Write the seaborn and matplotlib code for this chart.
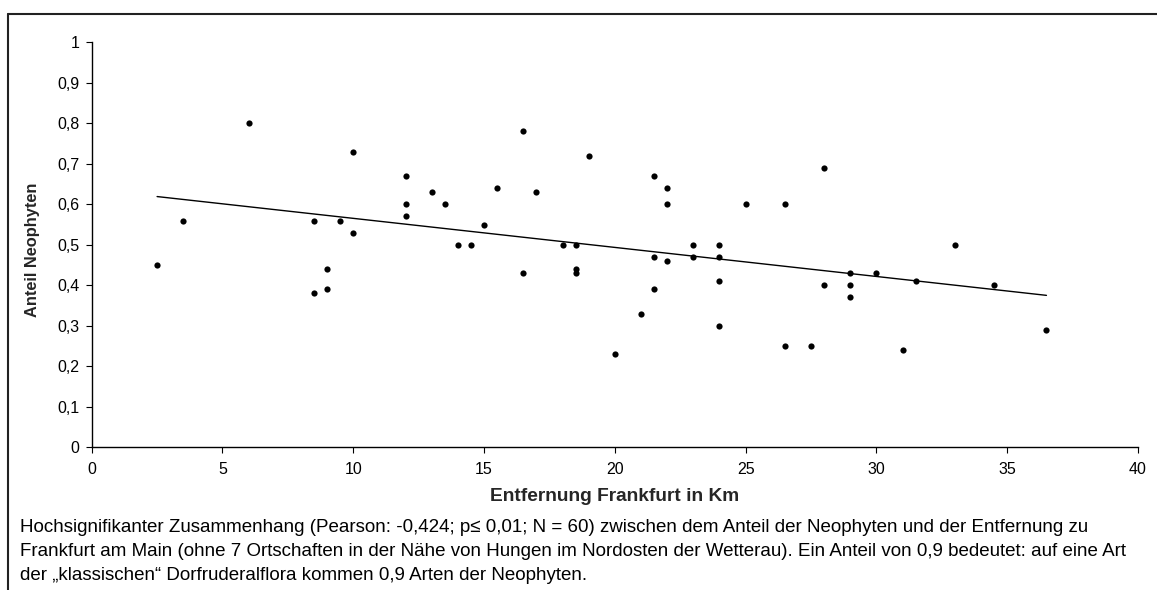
import matplotlib
matplotlib.use("Agg")
import matplotlib.pyplot as plt
import seaborn as sns
import pandas as pd
from matplotlib.ticker import FuncFormatter, MultipleLocator
from matplotlib.lines import Line2D

# Distance to Frankfurt (km) and share of neophytes per village
entfernung = [2.5, 3.5, 6, 8.5, 8.5, 9, 9, 9.5, 10, 10, 12, 12, 12, 13,
              13.5, 14, 14.5, 15, 15.5, 16.5, 16.5, 17, 18, 18.5, 18.5, 18.5,
              19, 20, 21, 21.5, 21.5, 21.5, 22, 22, 22, 23, 23, 24, 24, 24, 24,
              25, 26.5, 26.5, 27.5, 28, 28, 29, 29, 29, 30, 31, 31.5, 33,
              34.5, 36.5]
anteil = [0.45, 0.56, 0.80, 0.56, 0.38, 0.44, 0.39, 0.56, 0.73, 0.53, 0.67, 0.60,
          0.57, 0.63, 0.60, 0.50, 0.50, 0.55, 0.64, 0.78, 0.43, 0.63, 0.50, 0.50,
          0.44, 0.43, 0.72, 0.23, 0.33, 0.67, 0.47, 0.39, 0.64, 0.60, 0.46,
          0.50, 0.47, 0.50, 0.47, 0.41, 0.30, 0.60, 0.60, 0.25, 0.25, 0.69,
          0.40, 0.43, 0.40, 0.37, 0.43, 0.24, 0.41, 0.50, 0.40, 0.29]

caption = [
    "Hochsignifikanter Zusammenhang (Pearson: -0,424; p\u2264 0,01; N = 60) zwischen dem Anteil der Neophyten und der Entfernung zu",
    "Frankfurt am Main (ohne 7 Ortschaften in der N\u00e4he von Hungen im Nordosten der Wetterau). Ein Anteil von 0,9 bedeutet: auf eine Art",
    "der \u201eklassischen\u201c Dorfruderalflora kommen 0,9 Arten der Neophyten.",
]

df = pd.DataFrame({"km": entfernung, "anteil": anteil})

sns.set_theme(style="ticks")
plt.rcParams["font.family"] = ["Liberation Sans", "DejaVu Sans"]

W, H = 1157, 590
fig = plt.figure(figsize=(W / 100, H / 100), dpi=100)
ax = fig.add_axes([91.7 / W, 1 - 447.3 / H, (1138 - 91.7) / W, (447.3 - 42.3) / H])

sns.regplot(data=df, x="km", y="anteil", ax=ax, ci=None, color="black",
            scatter_kws={"s": 20, "linewidths": 0, "alpha": 1},
            line_kws={"lw": 1.0})

ax.set_xlim(0, 40)
ax.set_ylim(0, 1)
ax.xaxis.set_major_locator(MultipleLocator(5))
ax.yaxis.set_major_locator(MultipleLocator(0.1))
fmt = FuncFormatter(lambda v, p: f"{round(v, 2):g}".replace(".", ","))
ax.yaxis.set_major_formatter(fmt)
ax.xaxis.set_major_formatter(fmt)
ax.tick_params(axis="both", labelsize=11.5, length=4, width=0.8, color="black",
               labelcolor="black")
ax.tick_params(axis="x", pad=6.5)
ax.tick_params(axis="y", pad=5)
for side in ["top", "right"]:
    ax.spines[side].set_visible(False)
for side in ["left", "bottom"]:
    ax.spines[side].set_color("black")
    ax.spines[side].set_linewidth(1.0)

ax.set_xlabel("Entfernung Frankfurt in Km", fontsize=13.8, fontweight="bold")
ax.set_ylabel("Anteil Neophyten", fontsize=11.8, fontweight="bold")
ax.xaxis.set_label_coords(0.5, -(497 - 447.3) / 405)
ax.xaxis.label.set_verticalalignment("center")
ax.yaxis.set_label_coords((33 - 91.7) / 1046.3, (447.3 - 250) / 405)
ax.yaxis.label.set_verticalalignment("center")

# outer frame (top and left edges visible)
fig.add_artist(Line2D([8 / W, 1], [1 - 14 / H, 1 - 14 / H], transform=fig.transFigure,
                      color="#222222", lw=1.5))
fig.add_artist(Line2D([8 / W, 8 / W], [0, 1 - 14 / H], transform=fig.transFigure,
                      color="#222222", lw=1.5))

for i, line in enumerate(caption):
    fig.text(20 / W, 1 - (528 + i * 23.5) / H, line, fontsize=13.5,
             va="center", ha="left", color="black")

fig.savefig("out.png", dpi=100)
